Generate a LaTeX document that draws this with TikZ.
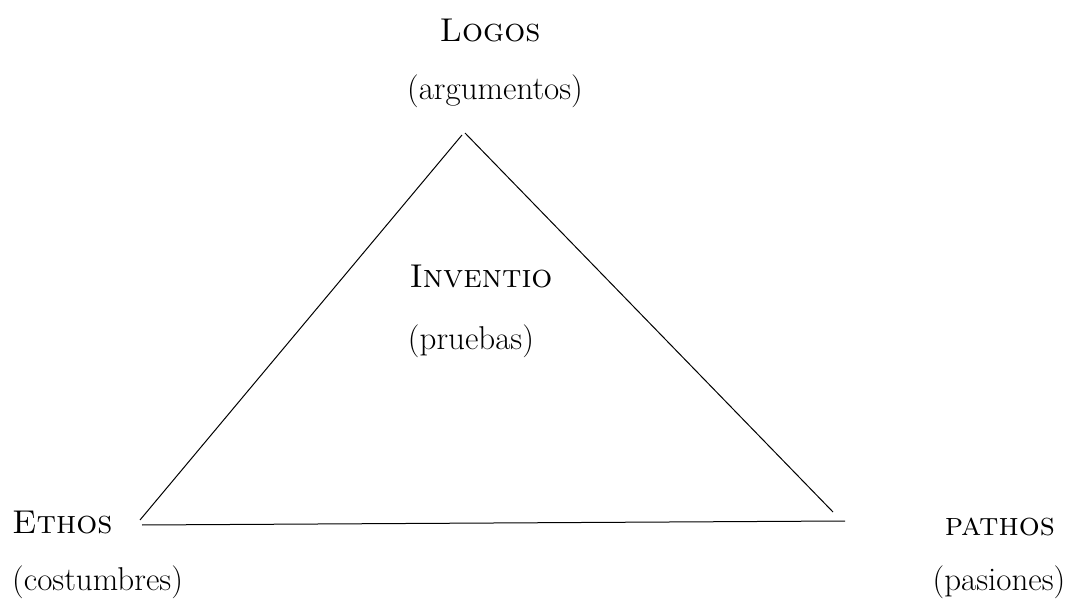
\documentclass[tikz,border=0pt]{standalone}
\begin{document}
\begin{tikzpicture}[x=1pt,y=-1pt,
  lbl/.style={anchor=base,inner sep=0pt,font=\fontsize{33}{40}\selectfont},
  lblw/.style={anchor=base west,inner sep=0pt,font=\fontsize{33}{40}\selectfont},
  side/.style={line width=1pt,black}]
\useasboundingbox (0,0) rectangle (1074,601);
% corner points
\coordinate (apexL) at (462,135);
\coordinate (apexR) at (465,133);
\coordinate (left) at (140,520);
\coordinate (baseL) at (142,525);
\coordinate (baseR) at (845,521);
\coordinate (right) at (833,512);
\draw[side] (apexL) -- (left);
\draw[side] (apexR) -- (right);
\draw[side] (baseL) -- (baseR);
% labels
\node[lbl] (logos) at (490,42) {\textsc{Logos}};
\node[lbl] (argumentos) at (495,100) {(argumentos)};
\node[lbl] (inventio) at (481,288) {\textsc{Inventio}};
\node[lbl] (pruebas) at (471,350) {(pruebas)};
\node[lblw] (ethos) at (12,533) {\textsc{Ethos}};
\node[lblw] (costumbres) at (12,590) {(costumbres)};
\node[lbl] (pathos) at (1000,535) {\textsc{pathos}};
\node[lbl] (pasiones) at (999,590) {(pasiones)};
\end{tikzpicture}
\end{document}
